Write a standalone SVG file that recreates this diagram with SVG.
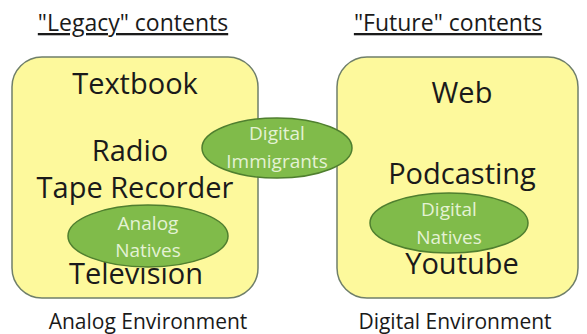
<svg xmlns="http://www.w3.org/2000/svg" width="587" height="334" viewBox="0 0 587 334">
<style>
text{font-family:"Open Sans","Liberation Sans",sans-serif;text-anchor:middle;fill:#1a1a1a}
.hd{font-size:23px;text-decoration:underline}
.it{font-size:29px}
.ft{font-size:21px}
.box{fill:#fdf99c;stroke:#6f7f6a;stroke-width:1.5}
.ell{fill:#80bb4a;stroke:#4f7f2f;stroke-width:1.5}
.el{font-size:19px;fill:#e4f2d4}
</style>
<rect width="587" height="334" fill="#ffffff"/>
<text class="hd" x="133" y="31">"Legacy" contents</text>
<text class="hd" x="448" y="31">"Future" contents</text>
<g id="analog">
<rect class="box" x="12" y="57" width="246" height="241" rx="30"/>
<text class="it" x="135" y="94">Textbook</text>
<text class="it" x="130" y="161">Radio</text>
<text class="it" x="135" y="198">Tape Recorder</text>
<text class="it" x="136" y="284">Television</text>
</g>
<g id="digital">
<rect class="box" x="337" y="57" width="241" height="241" rx="30"/>
<text class="it" x="462" y="103">Web</text>
<text class="it" x="462" y="184">Podcasting</text>
<text class="it" x="462" y="274">Youtube</text>
</g>
<g id="analog-natives">
<ellipse class="ell" cx="148" cy="236" rx="80" ry="31"/>
<text class="el" x="148" y="230">Analog</text>
<text class="el" x="148" y="257">Natives</text>
</g>
<g id="digital-immigrants">
<ellipse class="ell" cx="277" cy="148" rx="75" ry="30"/>
<text class="el" x="277" y="140">Digital</text>
<text class="el" x="277" y="168">Immigrants</text>
</g>
<g id="digital-natives">
<ellipse class="ell" cx="449" cy="223" rx="79" ry="30"/>
<text class="el" x="449" y="216">Digital</text>
<text class="el" x="449" y="244">Natives</text>
</g>
<g id="connectors"></g>
<text class="ft" x="148" y="329">Analog Environment</text>
<text class="ft" x="455" y="329">Digital Environment</text>
</svg>
